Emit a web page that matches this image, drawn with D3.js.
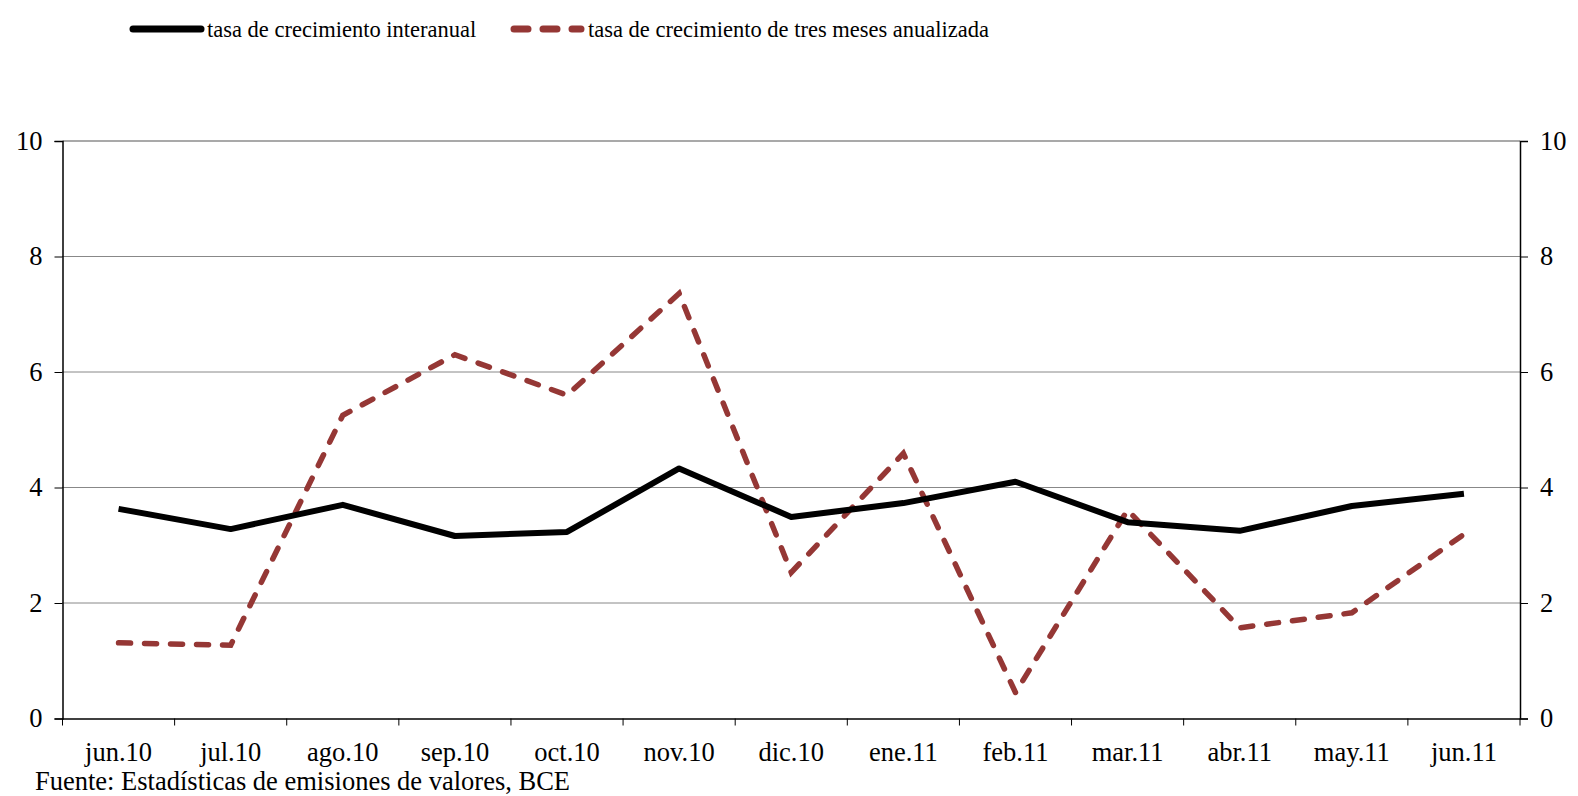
<!DOCTYPE html>
<html>
<head>
<meta charset="utf-8">
<script src="https://cdn.jsdelivr.net/npm/d3@7"></script>
<style>
body{margin:0;background:#fff;}
text{font-family:"Liberation Serif","DejaVu Serif",serif;fill:#000;}
</style>
</head>
<body>
<script>
// data
var months = ["jun.10","jul.10","ago.10","sep.10","oct.10","nov.10","dic.10","ene.11","feb.11","mar.11","abr.11","may.11","jun.11"];
var interanual = [3.63,3.28,3.70,3.16,3.23,4.33,3.49,3.73,4.10,3.40,3.25,3.68,3.89];
var tresMeses = [1.31,1.27,5.25,6.30,5.60,7.36,2.53,4.59,0.45,3.61,1.57,1.83,3.19];
var yTicks = [0,2,4,6,8,10];
var seriesNames = ["tasa de crecimiento interanual","tasa de crecimiento de tres meses anualizada"];

var W = 1578, H = 796;
var mLeft = 62.5, mRight = 1520, mTop = 141, mBottom = 718.5;
var serif = "Liberation Serif, DejaVu Serif, serif";

var svg = d3.select("body").append("svg").attr("width",W).attr("height",H);

var x = d3.scaleBand().domain(months).range([mLeft,mRight]);
var y = d3.scaleLinear().domain([0,10]).range([mBottom,mTop]);

//gridlines (dotted, top one solid grey)
svg.append("g").selectAll("line").data(yTicks.filter(function(d){return d>0;})).enter().append("line")
  .attr("x1",mLeft).attr("x2",mRight)
  .attr("y1",function(d){return y(d);}).attr("y2",function(d){return y(d);})
  .attr("stroke",function(d){return d==10 ? "#8c8c8c" : "#111";})
  .attr("stroke-width",function(d){return d==10 ? 1.5 : 1;})
  .attr("stroke-dasharray",function(d){return d==10 ? null : "1,1";});

//axes
var yl = svg.append("g").attr("transform","translate("+mLeft+",0)")
  .call(d3.axisLeft(y).tickValues(yTicks).tickSize(8).tickPadding(12));
var yr = svg.append("g").attr("transform","translate("+mRight+",0)")
  .call(d3.axisRight(y).tickValues(yTicks).tickSize(8).tickPadding(12));
[yl,yr].forEach(function(g){
  g.attr("font-family",serif);
  g.select(".domain").attr("stroke","#000").attr("stroke-width",1.5);
  g.selectAll(".tick line").attr("stroke","#000");
  g.selectAll("text").style("font-size","26.5px");
});

var xa = svg.append("g").attr("transform","translate(0,"+mBottom+")")
  .call(d3.axisBottom(x).tickSize(0).tickPadding(24));
xa.attr("font-family",serif);
xa.select(".domain").attr("stroke","#000").attr("stroke-width",1.5);
xa.selectAll("text").style("font-size","26.5px");

//tick marks between the categories
var edges = months.map(function(m){return x(m);}).concat([mRight]);
svg.append("g").selectAll("line").data(edges).enter().append("line")
  .attr("x1",function(d){return d;}).attr("x2",function(d){return d;})
  .attr("y1",mBottom).attr("y2",mBottom+7)
  .attr("stroke","#000").attr("stroke-width",1);

var line = d3.line()
  .x(function(d,i){return x(months[i])+x.bandwidth()/2;})
  .y(function(d){return y(d);});

svg.append("path").datum(tresMeses).attr("d",line)
  .attr("fill","none").attr("stroke","#953735").attr("stroke-width",5.5)
  .attr("stroke-linecap","round").attr("stroke-dasharray","12,14");

svg.append("path").datum(interanual).attr("d",line)
  .attr("fill","none").attr("stroke","#000").attr("stroke-width",6)
  .attr("stroke-linejoin","round");

//legend
var leg = svg.append("g");
leg.append("line").attr("x1",133).attr("x2",201).attr("y1",29).attr("y2",29)
  .attr("stroke","#000").attr("stroke-width",7).attr("stroke-linecap","round");
leg.append("text").attr("x",207).attr("y",37).style("font-size","22.5px").text(seriesNames[0]);
leg.append("line").attr("x1",514).attr("x2",581).attr("y1",29).attr("y2",29)
  .attr("stroke","#953735").attr("stroke-width",7).attr("stroke-linecap","round")
  .attr("stroke-dasharray","14,15");
leg.append("text").attr("x",588).attr("y",37).style("font-size","22.5px").text(seriesNames[1]);

svg.append("text").attr("x",35).attr("y",790).style("font-size","26.5px")
  .text("Fuente: Estadísticas de emisiones de valores, BCE");
</script>
</body>
</html>
